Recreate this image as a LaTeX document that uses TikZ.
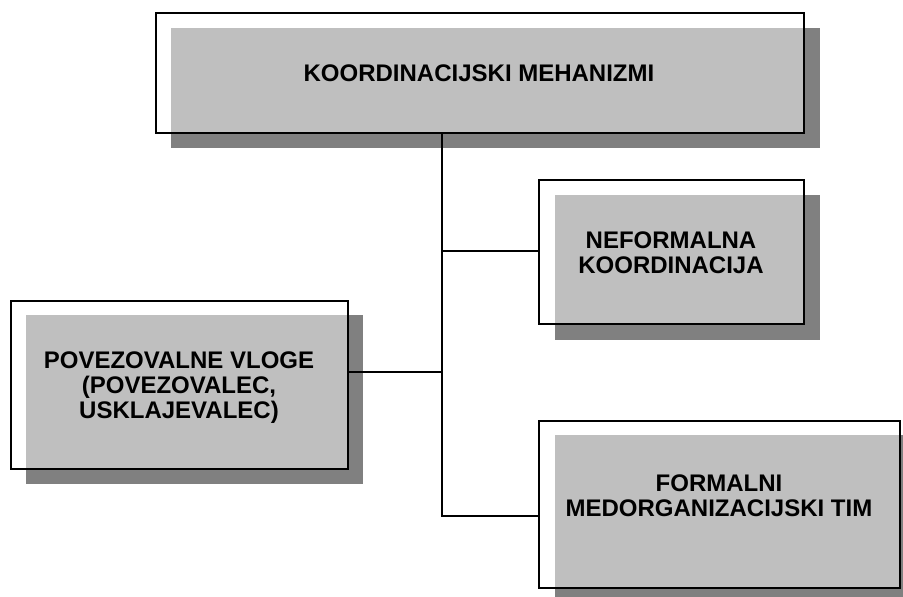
\documentclass[tikz,border=0pt]{standalone}
\usepackage{fontspec}
\setmainfont{Liberation Sans}
\begin{document}
\begin{tikzpicture}[x=1pt,y=-1pt,
  shadowfill/.style={fill=black!50},
  framebox/.style={draw=black, line width=1.7pt, fill=white, fill opacity=0.5, inner sep=0pt, anchor=north west},
  lbl/.style={font=\bfseries\fontsize{24}{25}\selectfont, align=center, inner sep=0pt, anchor=north},
  conn/.style={draw=black, line width=1.5pt}]
\useasboundingbox (0,0) rectangle (903,597);
% shadows
\fill[shadowfill] (171,28) rectangle (820,148);
\fill[shadowfill] (555,195) rectangle (820,340);
\fill[shadowfill] (26,315) rectangle (363,484);
\fill[shadowfill] (555,435) rectangle (916,604);
% frames
\node[framebox, minimum width=648pt, minimum height=120pt] (top) at (155,12) {};
\node[framebox, minimum width=265pt, minimum height=144pt] (neo) at (538,179) {};
\node[framebox, minimum width=337pt, minimum height=168pt] (pov) at (10,300) {};
\node[framebox, minimum width=361pt, minimum height=167pt] (for) at (538,420) {};
% connectors
\coordinate (j) at (442,516);
\coordinate (jn) at (442,251);
\coordinate (jp) at (442,372);
\draw[conn] (top.south -| j) -- (j) -- (for.west |- j);
\draw[conn] (jn) -- (neo.west |- jn);
\draw[conn] (jp) -- (pov.east |- jp);
% texts
\node[lbl] (ttop) at (479,65) {KOORDINACIJSKI MEHANIZMI};
\node[lbl] (tneo) at (671,232) {NEFORMALNA\\KOORDINACIJA};
\node[lbl] (tpov) at (179,352) {POVEZOVALNE VLOGE\\(POVEZOVALEC,\\USKLAJEVALEC)};
\node[lbl] (tfor) at (719,475) {FORMALNI\\MEDORGANIZACIJSKI TIM};
\end{tikzpicture}
\end{document}
